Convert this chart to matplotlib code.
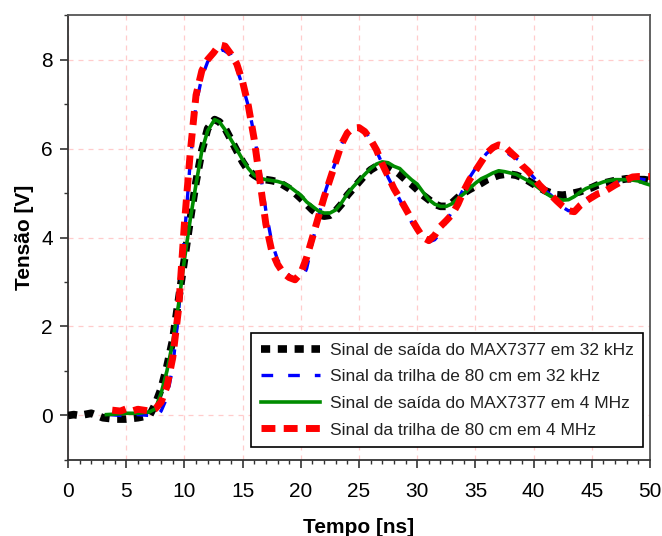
import matplotlib
matplotlib.use("Agg")
import matplotlib.pyplot as plt
from matplotlib.ticker import MultipleLocator

plt.rcParams['font.family'] = ['Liberation Sans', 'DejaVu Sans']

# ---- data ----
labels = ["Sinal de saída do MAX7377 em 32 kHz",
          "Sinal da trilha de 80 cm em 32 kHz",
          "Sinal de saída do MAX7377 em 4 MHz",
          "Sinal da trilha de 80 cm em 4 MHz"]

t_max32 = [0, 0.5, 1, 2, 3, 4, 5, 6, 7, 7.5, 8, 8.5, 9, 9.5, 10, 10.5, 11, 11.5, 12, 12.6,
           13, 13.5, 14, 14.5, 15, 15.5, 16, 16.5, 17, 17.5, 18, 18.5, 19, 19.5, 20, 20.5,
           21, 21.5, 22, 22.5, 23, 23.5, 24, 24.5, 25, 25.5, 26, 26.5, 27, 27.5, 28, 28.5,
           29, 29.5, 30, 30.5, 31, 31.5, 32, 32.5, 33, 33.5, 34, 34.5, 35, 35.5, 36, 36.5,
           37, 37.5, 38, 38.5, 39, 39.5, 40, 40.5, 41, 41.5, 42, 42.5, 43, 43.5, 44, 44.5,
           45, 45.5, 46, 46.5, 47, 47.5, 48, 48.5, 49, 49.5, 50]
v_max32 = [0.0, 0.02, 0.0, 0.05, -0.05, -0.08, -0.08, -0.05, 0.0, 0.25, 0.6, 1.1, 1.7, 2.6,
           3.5, 4.4, 5.25, 5.95, 6.45, 6.65, 6.6, 6.45, 6.2, 5.95, 5.7, 5.5, 5.4, 5.32, 5.3,
           5.28, 5.25, 5.18, 5.1, 5.0, 4.88, 4.75, 4.62, 4.52, 4.48, 4.5, 4.6, 4.75, 4.95,
           5.1, 5.25, 5.4, 5.52, 5.6, 5.62, 5.6, 5.52, 5.42, 5.3, 5.2, 5.08, 4.95, 4.85,
           4.75, 4.7, 4.7, 4.78, 4.9, 5.0, 5.08, 5.15, 5.22, 5.3, 5.35, 5.4, 5.42, 5.42,
           5.4, 5.35, 5.28, 5.2, 5.12, 5.05, 5.0, 4.96, 4.95, 4.97, 5.0, 5.03, 5.08, 5.12,
           5.18, 5.22, 5.25, 5.28, 5.3, 5.32, 5.32, 5.3, 5.3, 5.28]

t_trk32 = [3.6, 4.5, 5, 6, 7, 7.5, 8, 8.5, 9, 9.5, 10, 10.5, 11, 11.5, 12, 12.5, 13.3, 14,
           14.5, 15, 15.5, 16, 16.5, 17, 17.5, 18, 18.5, 19, 19.5, 20, 20.5, 21, 21.5, 22,
           22.5, 23, 23.5, 24, 24.5, 25, 25.5, 26, 26.5, 27, 27.5, 28, 28.5, 29, 29.5, 30,
           30.5, 31, 31.5, 32, 32.5, 33, 33.5, 34, 34.5, 35, 35.5, 36, 36.5, 37, 37.5, 38,
           38.5, 39, 39.5, 40, 40.5, 41, 41.5, 42, 42.5, 43, 43.5, 44, 44.5, 45, 45.5, 46,
           46.5, 47, 47.5, 48, 48.5, 49, 49.5, 50]
v_trk32 = [0.02, 0.0, 0.0, 0.02, 0.0, -0.05, 0.1, 0.4, 1.1, 2.3, 4.0, 5.7, 7.0, 7.6, 7.95,
           8.12, 8.22, 8.1, 7.8, 7.4, 6.95, 6.3, 5.5, 4.6, 3.9, 3.5, 3.3, 3.15, 3.05, 3.0,
           3.3, 3.9, 4.45, 4.95, 5.35, 5.7, 6.1, 6.35, 6.45, 6.48, 6.4, 6.2, 5.95, 5.65,
           5.35, 5.1, 4.85, 4.6, 4.35, 4.15, 3.95, 3.9, 3.95, 4.1, 4.35, 4.6, 4.85, 5.1,
           5.35, 5.55, 5.75, 5.9, 5.98, 6.0, 5.95, 5.85, 5.78, 5.7, 5.5, 5.35, 5.2, 5.05,
           4.95, 4.8, 4.68, 4.6, 4.62, 4.72, 4.85, 4.95, 5.0, 5.05, 5.15, 5.22, 5.3, 5.35,
           5.35, 5.32, 5.3, 5.28]

t_max4 = [3.3, 4, 5, 6, 7, 7.5, 8, 8.5, 9, 9.5, 10, 10.5, 11, 11.5, 12, 12.6, 13, 13.5, 14,
          14.5, 15, 15.5, 16, 16.5, 17, 17.5, 18, 18.5, 19, 19.5, 20, 20.5, 21, 21.5, 22,
          22.5, 23, 23.5, 24, 24.5, 25, 25.5, 26, 26.5, 27, 27.5, 28, 28.5, 29, 29.5, 30,
          30.5, 31, 31.5, 32, 32.5, 33, 33.5, 34, 34.5, 35, 35.5, 36, 36.5, 37, 37.5, 38,
          38.5, 39, 39.5, 40, 40.5, 41, 41.5, 42, 42.5, 43, 43.5, 44, 44.5, 45, 45.5, 46,
          46.5, 47, 47.5, 48, 48.5, 49, 49.5, 50]
v_max4 = [0.02, 0.03, 0.05, 0.05, 0.08, 0.15, 0.5, 1.0, 1.65, 2.5, 3.5, 4.4, 5.2, 5.95, 6.4,
          6.65, 6.6, 6.42, 6.2, 5.98, 5.75, 5.55, 5.4, 5.33, 5.3, 5.28, 5.26, 5.22, 5.15,
          5.05, 4.95, 4.8, 4.7, 4.6, 4.55, 4.55, 4.62, 4.78, 4.98, 5.14, 5.28, 5.42, 5.55,
          5.65, 5.7, 5.68, 5.6, 5.55, 5.42, 5.3, 5.2, 5.02, 4.85, 4.75, 4.7, 4.7, 4.76,
          4.88, 4.98, 5.1, 5.22, 5.32, 5.38, 5.45, 5.5, 5.48, 5.45, 5.42, 5.35, 5.28, 5.2,
          5.1, 5.0, 4.92, 4.87, 4.84, 4.85, 4.92, 5.02, 5.1, 5.15, 5.2, 5.25, 5.28, 5.3,
          5.3, 5.3, 5.29, 5.27, 5.22, 5.18]

t_trk4 = [3.8, 4.5, 5, 5.5, 6, 6.5, 7, 7.5, 8, 8.5, 9, 9.5, 10, 10.5, 11, 11.5, 12, 12.5,
          13, 13.5, 14, 14.5, 15, 15.5, 16, 16.5, 17, 17.5, 18, 18.5, 19, 19.5, 20, 20.5,
          21, 21.5, 22, 22.5, 23, 23.5, 24, 24.5, 25, 25.5, 26, 26.5, 27, 27.5, 28, 28.5,
          29, 29.5, 30, 30.5, 31, 31.5, 32, 32.5, 33, 33.5, 34, 34.5, 35, 35.5, 36, 36.5,
          37, 37.5, 38, 38.5, 39, 39.5, 40, 40.5, 41, 41.5, 42, 42.5, 43, 43.5, 44, 44.5,
          45, 45.5, 46, 46.5, 47, 47.5, 48, 48.5, 49, 49.5, 50]
v_trk4 = [0.12, 0.1, 0.15, 0.1, 0.14, 0.12, 0.1, 0.15, 0.3, 0.65, 1.3, 2.4, 4.3, 5.9, 7.2,
          7.75, 8.0, 8.15, 8.33, 8.3, 8.12, 7.9, 7.5, 6.95, 6.2, 5.25, 4.3, 3.7, 3.4, 3.2,
          3.1, 3.05, 3.2, 3.55, 4.0, 4.45, 4.9, 5.3, 5.7, 6.1, 6.35, 6.46, 6.47, 6.38, 6.2,
          5.97, 5.65, 5.38, 5.1, 4.88, 4.65, 4.42, 4.2, 4.0, 3.93, 4.05, 4.25, 4.38, 4.52,
          4.75, 5.05, 5.3, 5.5, 5.7, 5.9, 6.02, 6.08, 6.05, 5.92, 5.8, 5.62, 5.5, 5.35,
          5.18, 5.05, 4.95, 4.82, 4.7, 4.6, 4.58, 4.72, 4.82, 4.9, 4.98, 5.02, 5.1, 5.18,
          5.25, 5.3, 5.36, 5.37, 5.37, 5.37]

x_ticks = [0, 5, 10, 15, 20, 25, 30, 35, 40, 45, 50]
y_ticks = [0, 2, 4, 6, 8]

# ---- figure ----
fig = plt.figure(figsize=(6.62, 5.36), dpi=100)
ax = fig.add_axes([0.1027, 0.1418, 0.8792, 0.8302])

ax.plot(t_max32, v_max32, color='black', lw=5.5, linestyle=(0, (1.2, 1.0)),
        solid_capstyle='butt', dash_capstyle='butt', label=labels[0], zorder=3)
ax.plot(t_trk32, v_trk32, color='#0000ff', lw=2.4, linestyle=(0, (3.5, 4.5)),
        dash_capstyle='butt', label=labels[1], zorder=4)
ax.plot(t_max4, v_max4, color='#008c00', lw=2.6, linestyle='-', label=labels[2], zorder=5)
ax.plot(t_trk4, v_trk4, color='#ff0000', lw=5.0, linestyle=(0, (2.0, 1.2)),
        dash_capstyle='butt', label=labels[3], zorder=6)

ax.set_xlim(0, 50)
ax.set_ylim(-1, 9)
ax.set_xticks(x_ticks)
ax.set_yticks(y_ticks)
ax.xaxis.set_minor_locator(MultipleLocator(1))
ax.yaxis.set_minor_locator(MultipleLocator(1))

ax.grid(True, which='major', color='#ffcccc', linestyle=(0, (4, 4)), lw=0.9, zorder=0)
ax.set_axisbelow(True)

ax.tick_params(which='major', direction='out', length=6, width=1.2, color='#333333',
               labelsize=15, labelcolor='black')
ax.tick_params(which='minor', direction='out', length=3, width=1.0, color='#333333')
ax.tick_params(axis='x', which='major', pad=10)
ax.tick_params(axis='y', which='major', pad=5)

for s in ['left', 'bottom']:
    ax.spines[s].set_color('#333333')
    ax.spines[s].set_linewidth(1.3)
for s in ['top', 'right']:
    ax.spines[s].set_color('#555555')
    ax.spines[s].set_linewidth(1.3)

ax.set_xlabel('Tempo [ns]', fontsize=15, fontweight='bold', labelpad=12)
ax.set_ylabel('Tensão [V]', fontsize=15, fontweight='bold', labelpad=5)

leg = ax.legend(loc='lower right', bbox_to_anchor=(0.9888, 0.029), borderaxespad=0,
                fontsize=12.5, handlelength=3.4, handletextpad=0.6, labelspacing=0.66,
                borderpad=0.55, fancybox=False, framealpha=1, edgecolor='black',
                labelcolor='#222222')
leg.get_frame().set_linewidth(1.2)

fig.savefig('out.png', dpi=100)
